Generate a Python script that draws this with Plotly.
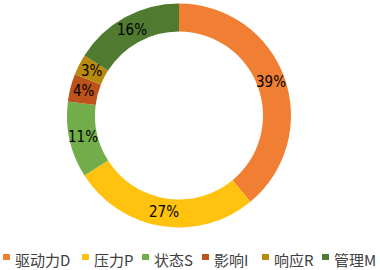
import math
import plotly.graph_objects as go

# ---- data ----
labels = ["驱动力D", "压力P", "状态S", "影响I", "响应R", "管理M"]
values = [39, 27, 11, 4, 3, 16]
colors = ["#F07F33", "#FFC20E", "#72AD4A", "#BD531A", "#B88A0E", "#4F7A30"]

# ---- layout helpers ----
W, H = 380, 270
cx, cy, R = 179, 115.5, 112
HOLE = 0.75
legend_x = [3, 82, 142, 202, 262, 322]   # left edge of legend squares (px)
legend_sq_y = (254, 260)
legend_text_y = 259

fig = go.Figure(go.Pie(
    labels=labels,
    values=values,
    marker=dict(colors=colors, line=dict(width=0)),
    hole=HOLE,
    sort=False,
    direction="clockwise",
    rotation=0,
    textinfo="none",
    hoverinfo="label+percent",
    showlegend=False,
    domain=dict(x=[(cx - R) / W, (cx + R) / W], y=[(H - cy - R) / H, (H - cy + R) / H]),
))

shapes = []
annotations = []

# percent labels at the middle of each ring segment
total = sum(values)
rmid = R * (1 + HOLE) / 2
cum = 0
for v in values:
    frac = (cum + v / 2) / total
    th = 2 * math.pi * frac
    px = cx + rmid * math.sin(th)
    py = cy - rmid * math.cos(th)
    annotations.append(dict(text=f"{round(100 * v / total)}%", xref="paper", yref="paper",
                            x=px / W, y=1 - py / H, xanchor="center", yanchor="middle",
                            showarrow=False,
                            font=dict(family="DejaVu Sans Condensed, Liberation Sans, sans-serif",
                                      size=15, color="#000000")))
    cum += v

# legend
for lab, col, x0 in zip(labels, colors, legend_x):
    shapes.append(dict(type="rect", xref="paper", yref="paper",
                       x0=x0 / W, x1=(x0 + 7) / W,
                       y0=1 - legend_sq_y[1] / H, y1=1 - legend_sq_y[0] / H,
                       fillcolor=col, line=dict(width=0)))
    annotations.append(dict(text=lab, xref="paper", yref="paper",
                            x=(x0 + 10) / W, y=1 - legend_text_y / H,
                            xanchor="left", yanchor="middle", showarrow=False,
                            font=dict(family="Noto Sans CJK SC, sans-serif",
                                      size=15, color="#404040")))

fig.update_layout(
    width=W, height=H,
    margin=dict(l=0, r=0, t=0, b=0),
    paper_bgcolor="white", plot_bgcolor="white",
    shapes=shapes, annotations=annotations,
)

fig.write_html("out.html",
               config={"displayModeBar": False},
               post_script="document.body.style.margin='0';document.body.style.overflow='hidden';")
